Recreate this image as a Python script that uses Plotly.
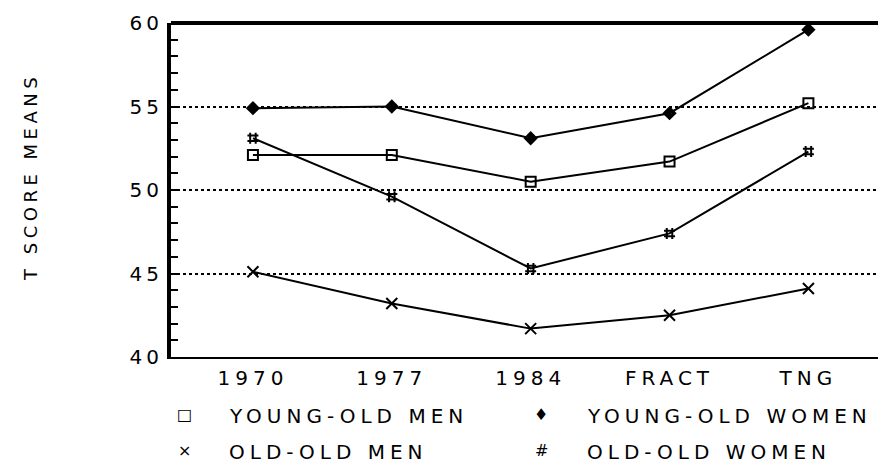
import plotly.graph_objects as go

categories = ["1970", "1977", "1984", "FRACT", "TNG"]
young_old_men = [52.1, 52.1, 50.5, 51.7, 55.2]
young_old_women = [54.9, 55.0, 53.1, 54.6, 59.6]
old_old_men = [45.1, 43.2, 41.7, 42.5, 44.1]
old_old_women = [53.1, 49.6, 45.3, 47.4, 52.3]
y_ticks = [40, 45, 50, 55, 60]

FONT = "DejaVu Sans"
LS = 5  # letter spacing px


def sp(t, ls=LS):
    return f'<span style="letter-spacing:{ls}px">{t}</span>'


xs = list(range(len(categories)))

fig = go.Figure()
series = [
    ("YOUNG-OLD MEN", young_old_men, dict(symbol="square-open", size=10, line=dict(width=2, color="black"))),
    ("YOUNG-OLD WOMEN", young_old_women, dict(symbol="diamond", size=11, color="black")),
    ("OLD-OLD MEN", old_old_men, dict(symbol="x-thin-open", size=11, line=dict(width=2, color="black"))),
    ("OLD-OLD WOMEN", old_old_women, dict(symbol="hash-open", size=11, line=dict(width=2, color="black"))),
]
for name, vals, mk in series:
    fig.add_trace(go.Scatter(x=xs, y=vals, mode="lines+markers", name=name,
                             line=dict(color="black", width=2), marker=mk,
                             showlegend=False))

# page body has an 8px margin, so the figure is sized/offset to compensate
W, H = 878, 458
fig.update_layout(
    width=W, height=H,
    margin=dict(l=163, r=4, t=15, b=109),
    paper_bgcolor="white", plot_bgcolor="white",
    font=dict(family=FONT, size=20, color="black"),
    xaxis=dict(range=[-0.59, 4.53], tickvals=xs, ticktext=[sp(c) for c in categories],
               showline=True, linewidth=2, linecolor="black", showgrid=False,
               ticks="", zeroline=False, tickfont=dict(size=20), ticklabelstandoff=2),
    yaxis=dict(range=[40, 60], tickvals=y_ticks, ticktext=[sp(str(v), 4) for v in y_ticks],
               showline=True, linewidth=4,
               linecolor="black", showgrid=True, gridcolor="black", griddash="dot",
               gridwidth=1.5, ticks="inside", ticklen=8, tickwidth=2, tickcolor="black",
               minor=dict(dtick=1, ticks="inside", ticklen=7, tickwidth=2, tickcolor="black"),
               zeroline=False, tickfont=dict(size=20), ticklabelstandoff=0),
)

fig.add_shape(type="line", xref="paper", yref="paper", x0=0, x1=1, y0=1, y1=1,
              line=dict(color="black", width=4))
fig.add_shape(type="line", xref="paper", yref="paper", x0=1, x1=1, y0=0, y1=1,
              line=dict(color="black", width=1))


def px(x):
    return (x - 171) / 711


def py(y):
    return (357 - y) / 334


fig.add_annotation(text=sp("T SCORE MEANS", 4.5), xref="paper", yref="paper",
                   x=px(30), y=py(177), textangle=-90, xanchor="center", yanchor="middle",
                   showarrow=False, font=dict(size=18, family=FONT))

legend_items = [
    ("□", "YOUNG-OLD MEN", 184, 227, 416),
    ("♦", "YOUNG-OLD WOMEN", 541, 585, 416),
    ("×", "OLD-OLD MEN", 184, 227, 452),
    ("#", "OLD-OLD WOMEN", 541, 585, 452),
]
for sym, label, sxp, tx, ty in legend_items:
    fig.add_annotation(text=sym, xref="paper", yref="paper", x=px(sxp), y=py(ty - 2),
                       xanchor="center", yanchor="middle", showarrow=False,
                       font=dict(size=16, family=FONT))
    fig.add_annotation(text=sp(label), xref="paper", yref="paper", x=px(tx), y=py(ty),
                       xanchor="left", yanchor="middle", showarrow=False,
                       font=dict(size=20, family=FONT))

fig.write_html("out.html")
